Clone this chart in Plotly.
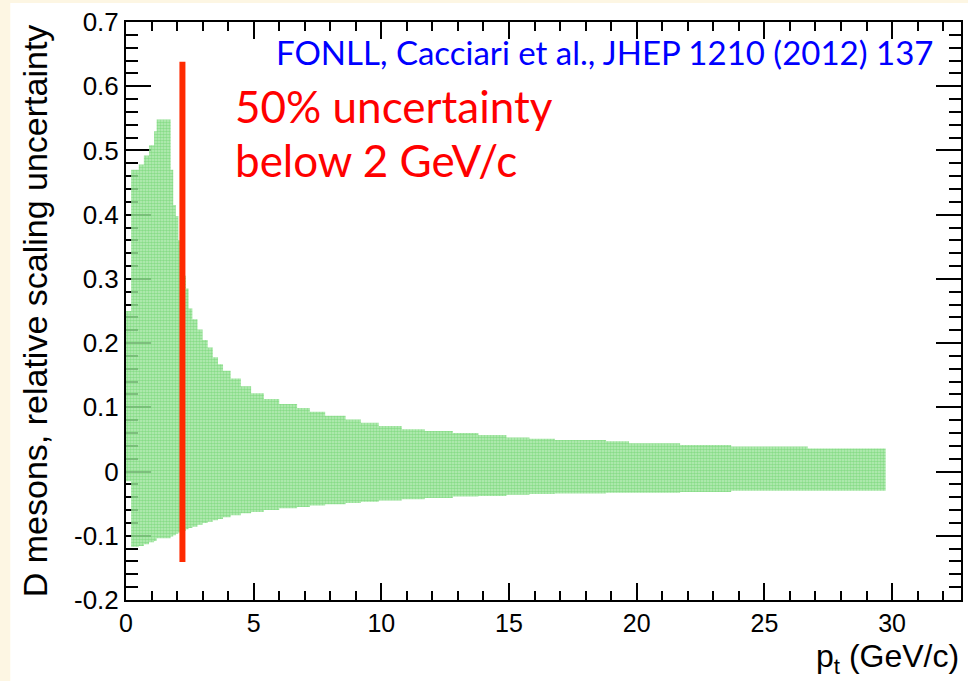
import plotly.graph_objects as go

# FONLL D-meson scaling uncertainty band, binned in pt (GeV/c)
pt_edges = [0.0, 0.2, 0.5, 0.7, 0.9, 1.1, 1.2, 1.75, 1.85, 1.95,
            2.05, 2.2, 2.35, 2.45, 2.6, 2.8, 3.0, 3.2, 3.4, 3.6,
            3.8, 4.1, 4.5, 4.9, 5.4, 6.0, 6.7, 7.2, 7.8, 8.6,
            9.2, 9.9, 10.8, 11.7, 12.8, 13.8, 14.9, 15.8, 16.8, 18.8,
            19.7, 21.7, 23.7, 26.7, 29.75]

band_upper = [0.25, 0.47, 0.478, 0.492, 0.508, 0.530, 0.548, 0.470, 0.415, 0.398,
              0.360, 0.305, 0.285, 0.254, 0.237, 0.221, 0.205, 0.193, 0.178, 0.167,
              0.157, 0.145, 0.133, 0.122, 0.113, 0.105, 0.099, 0.093, 0.087, 0.081,
              0.076, 0.071, 0.066, 0.063, 0.060, 0.057, 0.053, 0.051, 0.049, 0.047,
              0.044, 0.0415, 0.039, 0.036]

band_lower = [-0.015, -0.117, -0.116, -0.113, -0.110, -0.108, -0.104, -0.101, -0.099, -0.097,
              -0.095, -0.092, -0.090, -0.088, -0.086, -0.083, -0.080, -0.078, -0.076, -0.074,
              -0.071, -0.068, -0.065, -0.063, -0.060, -0.057, -0.055, -0.053, -0.051, -0.049,
              -0.047, -0.045, -0.043, -0.041, -0.039, -0.038, -0.036, -0.035, -0.034, -0.033,
              -0.033, -0.032, -0.030, -0.030]

# marker line at pt = 2.2 GeV/c
cut_pt = 2.21
cut_y = [-0.141, 0.638]

y_tick_vals = [-0.2, -0.1, 0.0, 0.1, 0.2, 0.3, 0.4, 0.5, 0.6, 0.7]
y_tick_text = ["-0.2", "-0.1", "0", "0.1", "0.2", "0.3", "0.4", "0.5", "0.6", "0.7"]
x_tick_vals = [0, 5, 10, 15, 20, 25, 30]
x_tick_text = ["0", "5", "10", "15", "20", "25", "30"]

W, H = 968, 681
L, R, T, B = 126, 5, 22, 81
pw, ph = W - L - R, H - T - B


def px_x(px):
    return (px - L) / pw


def px_y(py):
    return (H - B - py) / ph


fig = go.Figure()

# lower edge of the band (step histogram)
fig.add_trace(go.Scatter(
    x=pt_edges, y=band_lower + [band_lower[-1]],
    mode="lines", line=dict(shape="hv", width=0, color="rgba(0,0,0,0)"),
    hoverinfo="skip", showlegend=False,
))
# upper edge, filled down to the lower edge
fig.add_trace(go.Scatter(
    x=pt_edges, y=band_upper + [band_upper[-1]],
    mode="lines", line=dict(shape="hv", width=0, color="rgba(0,0,0,0)"),
    fill="tonexty",
    fillcolor="rgba(120,215,120,0.7)",
    fillpattern=dict(shape=".", fgcolor="#55cc55", bgcolor="rgba(170,232,170,0.8)",
                     size=3, solidity=0.6),
    hoverinfo="skip", showlegend=False,
))

fig.add_trace(go.Scatter(
    x=[cut_pt, cut_pt], y=cut_y, mode="lines",
    line=dict(color="#FF2A00", width=6),
    hoverinfo="skip", showlegend=False,
))

axis_font = dict(family="Liberation Sans, Arial, sans-serif", color="black")

fig.update_xaxes(
    range=[0, 32.7], tickvals=x_tick_vals, ticktext=x_tick_text,
    ticks="inside", ticklen=17, tickwidth=2, tickcolor="black",
    minor=dict(dtick=1, ticks="inside", ticklen=9, tickwidth=2, tickcolor="black"),
    showline=True, linecolor="black", linewidth=2, mirror="ticks",
    showgrid=False, zeroline=False, layer="below traces",
    tickfont=dict(size=25, **axis_font),
)
fig.update_yaxes(
    range=[-0.2, 0.7], tickvals=y_tick_vals, ticktext=y_tick_text,
    ticks="inside", ticklen=25, tickwidth=2, tickcolor="black",
    minor=dict(dtick=0.02, tick0=0, ticks="inside", ticklen=12, tickwidth=2, tickcolor="black"),
    showline=True, linecolor="black", linewidth=2, mirror="ticks",
    showgrid=False, zeroline=False, layer="below traces",
    tickfont=dict(size=26, **axis_font),
)

annotations = [
    dict(text="D mesons, relative scaling uncertainty", textangle=-90,
         x=px_x(35), y=0.5, xanchor="center", yanchor="middle",
         font=dict(size=34, **axis_font)),
    dict(text="p<sub>t</sub> (GeV/c)",
         x=px_x(963), y=px_y(636), xanchor="right", yanchor="top",
         font=dict(size=32, **axis_font)),
    dict(text="FONLL, Cacciari et al., JHEP 1210 (2012) 137",
         x=px_x(937), y=px_y(52), xanchor="right", yanchor="middle",
         font=dict(size=33, family="Lato, Open Sans, sans-serif", color="#0000FF")),
    dict(text="50% uncertainty",
         x=px_x(233), y=px_y(106), xanchor="left", yanchor="middle",
         font=dict(size=44, family="Lato, Open Sans, sans-serif", color="#FF0000")),
    dict(text="below 2 GeV/c",
         x=px_x(233), y=px_y(160), xanchor="left", yanchor="middle",
         font=dict(size=44, family="Lato, Open Sans, sans-serif", color="#FF0000")),
]
for a in annotations:
    a.update(xref="paper", yref="paper", showarrow=False)

fig.update_layout(
    width=W, height=H,
    margin=dict(l=L, r=R, t=T, b=B),
    paper_bgcolor="#FDF6E3",
    plot_bgcolor="white",
    annotations=annotations,
    shapes=[dict(type="rect", xref="paper", yref="paper",
                 x0=px_x(10), x1=px_x(W + 5), y0=px_y(H + 5), y1=px_y(3),
                 fillcolor="white", line=dict(width=0), layer="below")],
)

fig.write_html("out.html")
